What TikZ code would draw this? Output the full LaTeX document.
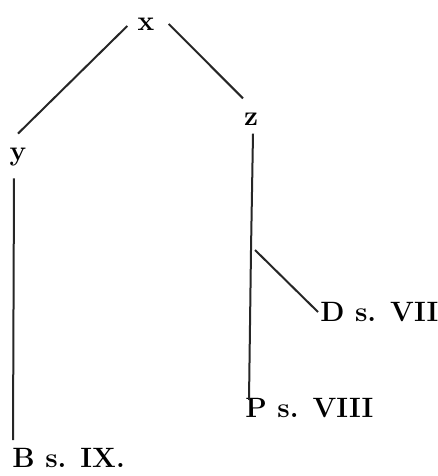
\documentclass[tikz,border=0pt]{standalone}
\usepackage{tikz}
\usetikzlibrary{positioning}

\begin{document}
\begin{tikzpicture}[
        x=0.5pt, y=-0.5pt,
        ms/.style={inner sep=1pt, font=\fontsize{14}{16}\selectfont\bfseries},
        line/.style={draw, line width=1pt, black!85}
    ]
    \useasboundingbox (0,0) rectangle (438,476);
    \node [ms] (x) at (146,24) {x};
    \node [ms] (y) at (18,157) {y};
    \node [ms] (z) at (251,119) {z};
    \node [ms, anchor=west] (dvii) at (318,312) {D s. VII};
    \node [ms, anchor=west] (pviii) at (243,408) {P s. VIII};
    \node [ms, anchor=west] (bix) at (10,458) {B s. IX.};
    \coordinate (zb) at (251,250);
    \coordinate (pt) at (249,400);
    \coordinate (bt) at (13,440);

    \path [line] ([xshift=-4pt,yshift=-1pt]x.west) -- ([yshift=6pt]y.north);
    \path [line] ([xshift=6pt]x.east) -- ([xshift=-4pt,yshift=6pt]z.north);
    \path [line] ([xshift=1pt,yshift=-3pt]z.south) -- (zb) -- (pt);
    \path [line] ([xshift=2pt]zb) -- (dvii.west);
    \path [line] ([xshift=-2pt,yshift=-5pt]y.south) -- (bt);
\end{tikzpicture}
\end{document}
